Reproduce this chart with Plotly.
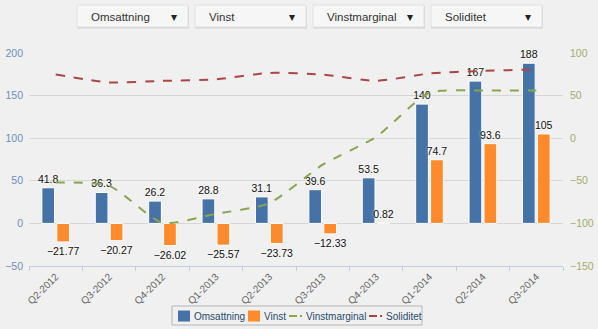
import plotly.graph_objects as go

# Quarterly key figures
quarters = ["Q2-2012", "Q3-2012", "Q4-2012", "Q1-2013", "Q2-2013",
            "Q3-2013", "Q4-2013", "Q1-2014", "Q2-2014", "Q3-2014"]
omsattning = [41.8, 36.3, 26.2, 28.8, 31.1, 39.6, 53.5, 140, 167, 188]
vinst = [-21.77, -20.27, -26.02, -25.57, -23.73, -12.33, 0.82, 74.7, 93.6, 105]
vinstmarginal = [-52.1, -55.8, -99.3, -88.8, -76.3, -31.1, 1.5, 53.4, 56.0, 55.9]
soliditet = [74.8, 65.4, 67.3, 69.2, 76.6, 74.7, 67.3, 75.9, 79.0, 80.6]

series_names = ["Omsattning", "Vinst", "Vinstmarginal", "Soliditet"]

W, H = 598, 329
ML, MR, MT, MB = 29, 35, 53, 63
PW, PH = W - ML - MR, H - MT - MB

BLUE = "#4572a7"
ORANGE = "#fd8a2b"
GREEN = "#89a54e"
RED = "#aa4643"
BG = "#f0f0f0"
FONT = "Liberation Sans, Arial, sans-serif"


def fmt(v):
    return f"{v:g}".replace("-", "\u2212")


def px_x(x):
    return (x - ML) / PW


def px_y(y):
    return (H - MB - y) / PH


label_font = dict(family=FONT, size=10.5, color="#111111", shadow="0px 0px 3px white")

fig = go.Figure()
fig.add_trace(go.Bar(
    x=quarters, y=omsattning, name=series_names[0],
    marker=dict(color=BLUE, line=dict(color="white", width=1)),
    text=[fmt(v) for v in omsattning], textposition="outside", constraintext="none",
    textfont=label_font, cliponaxis=False, hoverinfo="x+y",
))
fig.add_trace(go.Bar(
    x=quarters, y=vinst, name=series_names[1],
    marker=dict(color=ORANGE, line=dict(color="white", width=1)),
    text=[fmt(v) for v in vinst], textposition="outside", constraintext="none",
    textfont=label_font, cliponaxis=False, hoverinfo="x+y",
))
fig.add_trace(go.Scatter(
    x=quarters, y=vinstmarginal, name=series_names[2], yaxis="y2",
    mode="lines", line=dict(color=GREEN, width=2, dash="dash",
                            shape="spline", smoothing=0.6),
))
fig.add_trace(go.Scatter(
    x=quarters, y=soliditet, name=series_names[3], yaxis="y2",
    mode="lines", line=dict(color=RED, width=2, dash="dash",
                            shape="spline", smoothing=0.6),
))

shapes = []
annotations = []


def rect(x0, y0, x1, y1, fill, line_color=None, lw=0, layer="below"):
    shapes.append(dict(type="rect", xref="paper", yref="paper",
                       x0=px_x(x0), x1=px_x(x1), y0=px_y(y1), y1=px_y(y0),
                       fillcolor=fill, line=dict(color=line_color or fill, width=lw),
                       layer=layer))


def seg(x0, x1, y, color):
    shapes.append(dict(type="line", xref="paper", yref="paper",
                       x0=px_x(x0), x1=px_x(x1), y0=px_y(y), y1=px_y(y),
                       line=dict(color=color, width=2), layer="above"))


def label(x, y, text, size, color, anchor="left", family=FONT):
    annotations.append(dict(xref="paper", yref="paper", x=px_x(x), y=px_y(y),
                            xanchor=anchor, yanchor="middle", showarrow=False,
                            text=text, font=dict(family=family, size=size, color=color)))


# Dropdown-style selector buttons across the top
btn_x0 = [77, 195, 313, 431]
btn_w = 111
for x0, name in zip(btn_x0, series_names):
    x1 = x0 + btn_w
    rect(x0, 6, x1 + 1, 28.5, "#d4d4d4")
    rect(x0, 5, x1, 27, "#f6f6f6", "#e2e2e2", 1)
    label(x0 + 12, 16.5, name, 11.5, "#333333")
    label(x1 - 14, 16.5, "\u25BE", 12, "#222222", anchor="center", family="DejaVu Sans")

# Compact legend box below the axis
rect(172, 306, 422, 325, BG, "#b4b4b4", 1, layer="above")
leg_y = 316
leg_font = 10
rect(178, 310.5, 190, 321.5, BLUE, layer="above")
label(192, leg_y, series_names[0], leg_font, "#274b6d")
rect(248, 310.5, 260, 321.5, ORANGE, layer="above")
label(262, leg_y, series_names[1], leg_font, "#274b6d")
seg(289, 297, leg_y, GREEN)
seg(300, 302, leg_y, GREEN)
label(304, leg_y, series_names[2], leg_font, "#274b6d")
seg(369, 377, leg_y, RED)
seg(380, 382, leg_y, RED)
label(384, leg_y, series_names[3], leg_font, "#274b6d")

fig.update_layout(
    width=W, height=H,
    margin=dict(l=ML, r=MR, t=MT, b=MB, pad=0),
    paper_bgcolor=BG, plot_bgcolor=BG,
    barmode="group", bargap=0.44, bargroupgap=0.15,
    showlegend=False,
    xaxis=dict(type="category", tickangle=-45, showline=True, linecolor="#c0d0e0",
               linewidth=1, ticks="outside", tickson="boundaries", ticklen=4,
               tickcolor="#c0d0e0", showgrid=False, automargin=False,
               tickfont=dict(family=FONT, size=10, color="#666666")),
    yaxis=dict(range=[-50, 200], dtick=50, tick0=0, showgrid=True, gridcolor="#d6d6d6",
               gridwidth=1, zeroline=False, showline=False, ticks="",
               ticklabelstandoff=5, automargin=False,
               tickfont=dict(family=FONT, size=10.5, color="#6d8fc2")),
    yaxis2=dict(range=[-150, 100], dtick=50, tick0=0, overlaying="y", side="right",
                showgrid=False, zeroline=False, showline=False, ticks="",
                ticklabelstandoff=6, automargin=False,
                tickfont=dict(family=FONT, size=10.5, color="#a2ad6c")),
    shapes=shapes, annotations=annotations,
)

fig.write_html("out.html")
